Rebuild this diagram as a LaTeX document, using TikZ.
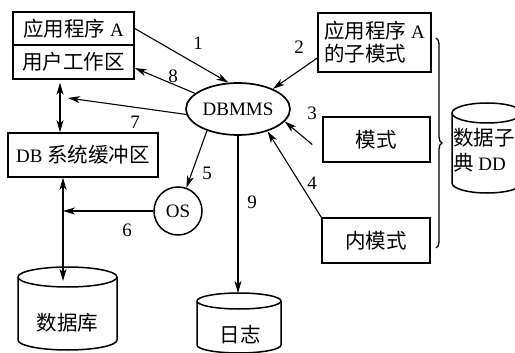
\documentclass[tikz,border=0pt]{standalone}
\usepackage{fontspec}
\setmainfont{Liberation Serif}
\newfontfamily\cjk{Noto Sans CJK SC}[Scale=1.08]
\usetikzlibrary{shapes.geometric,arrows.meta,decorations.pathreplacing,calc}
\newcommand\zh[1]{{\cjk #1}}
% drum: centre x, half width, top y, bottom y, rim radius
\newcommand\drum[5]{%
  \draw[drumline] (#1-#2,#3) -- (#1-#2,#4)
    arc[start angle=180,end angle=0,x radius=#2,y radius=#5] -- (#1+#2,#3);
  \draw[drumline] (#1,#3) ellipse[x radius=#2,y radius=#5];}
\begin{document}
\begin{tikzpicture}[x=1pt,y=-1pt,
  font=\fontsize{19}{23}\selectfont,
  box/.style={draw,line width=1.5pt,inner sep=0pt},
  drumline/.style={line width=1.5pt},
  tip/.tip={Stealth[length=12pt,width=7pt,inset=3.5pt]},
  arr/.style={line width=1.1pt,-tip},
  dbl/.style={line width=1.1pt,tip-tip},
  num/.style={inner sep=0pt}]
\useasboundingbox (0,0) rectangle (515,353);
\clip (0,0) rectangle (515,353);

% left column
\node[box,minimum width=121pt,minimum height=33pt] (appA) at (73.5,28.5) {\zh{应用程序} A};
\node[box,minimum width=121pt,minimum height=34pt] (work) at (73.5,62) {\zh{用户工作区}};
\node[box,minimum width=150pt,minimum height=44pt] (buf) at (83,155) {DB \zh{系统缓冲区}};

% centre
\node[draw,ellipse,line width=1.7pt,minimum width=104pt,minimum height=52pt,inner sep=0pt] (dbmms) at (238,109) {DBMMS};
\node[draw,circle,line width=1.5pt,minimum size=48pt,inner sep=0pt] (os) at (178,211) {OS};

% right column
\node[box,minimum width=113pt,minimum height=59pt,align=left] (sub) at (374.5,42.5) {\zh{应用程序} A\\\zh{的子模式}};
\node[box,minimum width=107pt,minimum height=45pt] (mode) at (376.5,139.5) {\zh{模式}};
\node[box,minimum width=108pt,minimum height=45pt] (inner) at (376,240.5) {\zh{内模式}};

% brace grouping the three schemas
\draw[line width=1.3pt,decorate,decoration={brace,amplitude=6pt}] (436,38) -- (436,248);

% storage drums
\drum{67.5}{49.5}{277}{340}{10}
\node (dbtext) at (67.5,323) {\zh{数据库}};
\drum{239}{42}{301}{345}{8}
\node (logtext) at (240,335) {\zh{日志}};
\drum{487}{35}{113}{183}{10}
\node[align=left,anchor=west,inner sep=0pt,font=\fontsize{19}{25}\selectfont] (ddtext) at (453,150) {\zh{数据子}\\\zh{典} DD};

% connector end points
\coordinate (x60) at (60,0);
\coordinate (x63) at (63,0);
\coordinate (dbtop) at (63,281);
\coordinate (j6) at (63,211);
\coordinate (c7) at (68,98);
\coordinate (logtop) at (238,293);

% connectors
\draw[arr] (appA.east) -- (dbmms.110);
\draw[arr] ([yshift=-15.5pt]sub.west) -- (dbmms.30);
\draw[arr] ([yshift=-5pt]sub.west |- mode.west) ++(-5,0) -- (dbmms.-15);
\draw[arr] (inner.north west) -- (dbmms.-37);
\draw[arr] (dbmms.-145) -- (os);
\draw[arr] (os.west) -- (j6);
\draw[arr] (dbmms.186) -- (c7);
\draw[arr] (dbmms.160) -- ([yshift=-6pt]work.east);
\draw[arr] (dbmms.south) -- (logtop);
\draw[dbl] ([yshift=-3pt]work.south -| x60) -- (buf.north -| x60);
\draw[dbl] (buf.south -| x63) -- (dbtop);

% step numbers
\node[num] (n1) at (198,43) {1};
\node[num] (n2) at (299,47) {2};
\node[num] (n3) at (312,113) {3};
\node[num] (n4) at (312,183) {4};
\node[num] (n5) at (207,173) {5};
\node[num] (n6) at (127,230) {6};
\node[num] (n7) at (135,122) {7};
\node[num] (n8) at (173,76) {8};
\node[num] (n9) at (252,202) {9};
\end{tikzpicture}
\end{document}
